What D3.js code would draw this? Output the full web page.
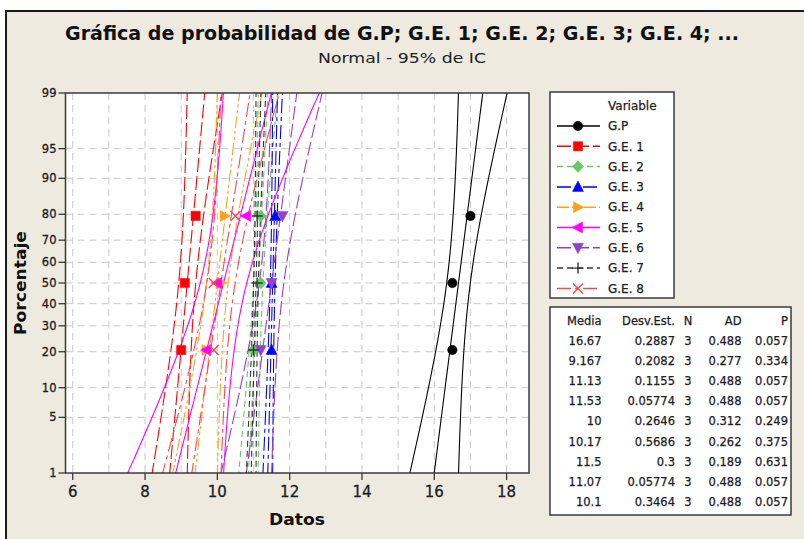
<!DOCTYPE html>
<html><head><meta charset="utf-8">
<script src="https://cdn.jsdelivr.net/npm/d3@7"></script>
<style>
html,body{margin:0;padding:0;background:#fff;}
svg{display:block;}
</style></head>
<body>
<svg id="chart" width="804" height="539"></svg>
<script>
// ---------- data ----------
const variables = ["G.P","G.E. 1","G.E. 2","G.E. 3","G.E. 4","G.E. 5","G.E. 6","G.E. 7","G.E. 8"];
const datos = [
  [16.5,16.5,17.0],
  [9.0,9.1,9.4],
  [11.0,11.2,11.2],
  [11.5,11.5,11.6],
  [9.7,10.1,10.2],
  [9.7,10.0,10.8],
  [11.2,11.5,11.8],
  [11.0,11.1,11.1],
  [9.9,9.9,10.5]
];
const media   = [16.67, 9.167, 11.13, 11.53, 10, 10.17, 11.5, 11.07, 10.1];
const desvEst = [0.2887, 0.2082, 0.1155, 0.05774, 0.2646, 0.5686, 0.3, 0.05774, 0.3464];
const nObs    = [3,3,3,3,3,3,3,3,3];
const adVal   = [0.488, 0.277, 0.488, 0.488, 0.312, 0.262, 0.189, 0.488, 0.488];
const pVal    = [0.057, 0.334, 0.057, 0.057, 0.249, 0.375, 0.631, 0.057, 0.057];
const mediaTxt   = ["16.67","9.167","11.13","11.53","10","10.17","11.5","11.07","10.1"];
const desvTxt    = ["0.2887","0.2082","0.1155","0.05774","0.2646","0.5686","0.3","0.05774","0.3464"];
const adTxt      = ["0.488","0.277","0.488","0.488","0.312","0.262","0.189","0.488","0.488"];
const pTxt       = ["0.057","0.334","0.057","0.057","0.249","0.375","0.631","0.057","0.057"];
const yTicks = [1,5,10,20,30,40,50,60,70,80,90,95,99];
const xTicks = [6,8,10,12,14,16,18];
const xGrid  = [6,7,8,9,10,11,12,13,14,15,16,17,18];

// ---------- styles ----------
const colors = ["#000000","#ff0000","#66c866","#0000ff","#ffa020","#ff00ff","#9440cc","#333333","#ff4848"];
const dashes = [null,"14,4","6,4","14,4,4,4","12,3,3,3,3,3",null,"14,4","6,4","14,4,4,4"];
const symbols = ["circle","square","diamond","triUp","triRight","triLeft","triDown","plus","cross"];

// ---------- helpers ----------
function probit(p){
  const a=[-3.969683028665376e+01,2.209460984245205e+02,-2.759285104469687e+02,1.383577518672690e+02,-3.066479806614716e+01,2.506628277459239e+00];
  const b=[-5.447609879822406e+01,1.615858368580409e+02,-1.556989798598866e+02,6.680131188771972e+01,-1.328068155288572e+01];
  const c=[-7.784894002430293e-03,-3.223964580411365e-01,-2.400758277161838e+00,-2.549732539343734e+00,4.374664141464968e+00,2.938163982698783e+00];
  const d=[7.784695709041462e-03,3.224671290700398e-01,2.445134137142996e+00,3.754408661907416e+00];
  const pl=0.02425, ph=1-pl; let q,r;
  if(p<pl){q=Math.sqrt(-2*Math.log(p));return (((((c[0]*q+c[1])*q+c[2])*q+c[3])*q+c[4])*q+c[5])/((((d[0]*q+d[1])*q+d[2])*q+d[3])*q+1);}
  if(p<=ph){q=p-0.5;r=q*q;return (((((a[0]*r+a[1])*r+a[2])*r+a[3])*r+a[4])*r+a[5])*q/(((((b[0]*r+b[1])*r+b[2])*r+b[3])*r+b[4])*r+1);}
  q=Math.sqrt(-2*Math.log(1-p));return -(((((c[0]*q+c[1])*q+c[2])*q+c[3])*q+c[4])*q+c[5])/((((d[0]*q+d[1])*q+d[2])*q+d[3])*q+1);
}

const svg = d3.select("#chart");
const W=804,H=539;
const font = "'DejaVu Sans', Verdana, sans-serif";
const txtCol = "#1c1c24";

// background panel
svg.append("rect").attr("x",6).attr("y",11).attr("width",W).attr("height",H).attr("fill","#eeeae0").attr("stroke","#1a1a1a").attr("stroke-width",2);

// plot geometry
const L=65.5,R=529,T=93,B=473;
const x = d3.scaleLinear().domain([5.8,18.62]).range([L,R]);
const zTop = probit(0.99);
const yz = d3.scaleLinear().domain([-zTop,zTop]).range([B,T]);
const y = p => yz(probit(p/100));

svg.append("defs").append("clipPath").attr("id","clip").append("rect").attr("x",L).attr("y",T).attr("width",R-L).attr("height",B-T);
svg.append("rect").attr("x",L).attr("y",T).attr("width",R-L).attr("height",B-T).attr("fill","#fff");

// grid
const g = svg.append("g");
g.selectAll(".vg").data(xGrid).join("line").attr("x1",d=>x(d)).attr("x2",d=>x(d)).attr("y1",T).attr("y2",B)
  .attr("stroke","#c8c8c8").attr("stroke-width",1).attr("stroke-dasharray","7,5");
g.selectAll(".hg").data(yTicks.filter(d=>d>1&&d<99)).join("line").attr("y1",d=>y(d)).attr("y2",d=>y(d)).attr("x1",L).attr("x2",R)
  .attr("stroke","#c8c8c8").attr("stroke-width",1).attr("stroke-dasharray","7,5");

// series
const plot = svg.append("g").attr("clip-path","url(#clip)");
const zs = d3.range(0,61).map(i=>-zTop*1.02 + i*(2*zTop*1.02)/60);
const lineGen = d3.line().x(d=>x(d[0])).y(d=>yz(d[1]));
function symPath(type){
  switch(type){
    case "circle": return d3.symbol(d3.symbolCircle, 70)();
    case "square": return d3.symbol(d3.symbolSquare, 85)();
    case "diamond": return "M0,-6L5.5,0L0,6L-5.5,0Z";
    case "triUp": return "M0,-6L5.5,4.5L-5.5,4.5Z";
    case "triDown": return "M0,6L5.5,-4.5L-5.5,-4.5Z";
    case "triRight": return "M6,0L-4.5,-5.5L-4.5,5.5Z";
    case "triLeft": return "M-6,0L4.5,-5.5L4.5,5.5Z";
    case "plus": return "M-5.5,0L5.5,0M0,-5.5L0,5.5";
    case "cross": return "M-5,-5L5,5M-5,5L5,-5";
  }
}
function drawSym(sel,type,color){
  const open = (type==="plus"||type==="cross");
  sel.attr("d",symPath(type)).attr("fill",open?"none":color).attr("stroke",color).attr("stroke-width",open?1.4:0.5);
}

variables.forEach((v,i)=>{
  const m=media[i], s=desvEst[i], n=nObs[i];
  const gs = plot.append("g");
  const fit = zs.map(z=>[m+s*z,z]);
  const hw = z=>1.96*s*Math.sqrt(1/n + z*z/(2*n-1));
  const lo = zs.map(z=>[m+s*z-hw(z),z]);
  const hi = zs.map(z=>[m+s*z+hw(z),z]);
  [lo,fit,hi].forEach(pts=>{
    gs.append("path").attr("d",lineGen(pts)).attr("fill","none").attr("stroke",colors[i])
      .attr("stroke-width",1.1).attr("stroke-dasharray",dashes[i]);
  });
});
variables.forEach((v,i)=>{
  const n=datos[i].length;
  const sorted = datos[i].slice().sort((a,b)=>a-b);
  sorted.forEach((val,k)=>{
    const p=(k+1-0.3)/(n+0.4)*100;
    plot.append("path").attr("transform",`translate(${x(val)},${y(p)})`).call(drawSym,symbols[i],colors[i]);
  });
});

// frame
svg.append("rect").attr("x",L).attr("y",T).attr("width",R-L).attr("height",B-T).attr("fill","none").attr("stroke","#3a3a3a").attr("stroke-width",1.5);

// axes
const yAxis = svg.append("g");
yTicks.forEach(t=>{
  yAxis.append("line").attr("x1",L-7).attr("x2",L).attr("y1",y(t)).attr("y2",y(t)).attr("stroke","#3a3a3a").attr("stroke-width",1.3);
  yAxis.append("text").attr("x",L-9).attr("y",y(t)).attr("dy","0.35em").attr("text-anchor","end")
    .attr("font-family",font).attr("font-size",11.5).attr("fill",txtCol).attr("stroke",txtCol).attr("stroke-width",0.3).text(t);
});
const xAxis = svg.append("g");
xTicks.forEach(t=>{
  xAxis.append("line").attr("x1",x(t)).attr("x2",x(t)).attr("y1",B).attr("y2",B+7).attr("stroke","#3a3a3a").attr("stroke-width",1.3);
  xAxis.append("text").attr("x",x(t)).attr("y",B+24).attr("text-anchor","middle")
    .attr("font-family",font).attr("font-size",15).attr("fill",txtCol).attr("stroke",txtCol).attr("stroke-width",0.3).text(t);
});

// titles
svg.append("text").attr("x",402).attr("y",40).attr("text-anchor","middle").attr("font-family",font)
  .attr("font-weight","bold").attr("font-size",20).attr("fill","#111")
  .attr("textLength",674).attr("lengthAdjust","spacingAndGlyphs")
  .text("Gráfica de probabilidad de G.P; G.E. 1; G.E. 2; G.E. 3; G.E. 4; ...");
svg.append("text").attr("x",402).attr("y",63).attr("text-anchor","middle").attr("font-family",font)
  .attr("font-size",14).attr("fill","#222").attr("textLength",168).attr("lengthAdjust","spacingAndGlyphs")
  .text("Normal - 95% de IC");
svg.append("text").attr("transform","translate(26,283) rotate(-90)").attr("text-anchor","middle").attr("font-family",font)
  .attr("font-weight","bold").attr("font-size",16).attr("fill","#111").attr("textLength",104).attr("lengthAdjust","spacingAndGlyphs")
  .text("Porcentaje");
svg.append("text").attr("x",297).attr("y",525).attr("text-anchor","middle").attr("font-family",font)
  .attr("font-weight","bold").attr("font-size",16).attr("fill","#111").attr("textLength",56).attr("lengthAdjust","spacingAndGlyphs")
  .text("Datos");

// legend
const lg = svg.append("g");
lg.append("rect").attr("x",550).attr("y",92).attr("width",124).attr("height",206).attr("fill","#fff").attr("stroke","#3a3a3a").attr("stroke-width",1.5);
lg.append("text").attr("x",608).attr("y",106).attr("dy","0.35em").attr("font-family",font).attr("font-size",12).attr("fill",txtCol).attr("stroke",txtCol).attr("stroke-width",0.25).text("Variable");
variables.forEach((v,i)=>{
  const yy = 126 + i*20.3;
  lg.append("line").attr("x1",557).attr("x2",600).attr("y1",yy).attr("y2",yy).attr("stroke",colors[i]).attr("stroke-width",1.5).attr("stroke-dasharray",dashes[i]);
  lg.append("path").attr("transform",`translate(578,${yy})`).call(drawSym,symbols[i],colors[i]);
  lg.append("text").attr("x",608).attr("y",yy).attr("dy","0.35em").attr("font-family",font).attr("font-size",12).attr("fill",txtCol).attr("stroke",txtCol).attr("stroke-width",0.25).text(v);
});

// stats table
const tb = svg.append("g");
tb.append("rect").attr("x",550).attr("y",307).attr("width",241).attr("height",208).attr("fill","#fff").attr("stroke","#3a3a3a").attr("stroke-width",1.5);
const cols = [
  {h:"Media", x:601.5, anchor:"end", vals:mediaTxt},
  {h:"Desv.Est.", x:675, anchor:"end", vals:desvTxt},
  {h:"N", x:688, anchor:"middle", vals:nObs.map(String)},
  {h:"AD", x:741.5, anchor:"end", vals:adTxt},
  {h:"P", x:788, anchor:"end", vals:pTxt}
];
cols.forEach(c=>{
  tb.append("text").attr("x",c.x).attr("y",321).attr("dy","0.35em").attr("text-anchor",c.anchor)
    .attr("font-family",font).attr("font-size",11.5).attr("fill",txtCol).attr("stroke",txtCol).attr("stroke-width",0.25).text(c.h);
  c.vals.forEach((v,k)=>{
    tb.append("text").attr("x",c.x).attr("y",341+k*20.1).attr("dy","0.35em").attr("text-anchor",c.anchor)
      .attr("font-family",font).attr("font-size",11.5).attr("fill",txtCol).attr("stroke",txtCol).attr("stroke-width",0.25).text(v);
  });
});
</script>
</body></html>
